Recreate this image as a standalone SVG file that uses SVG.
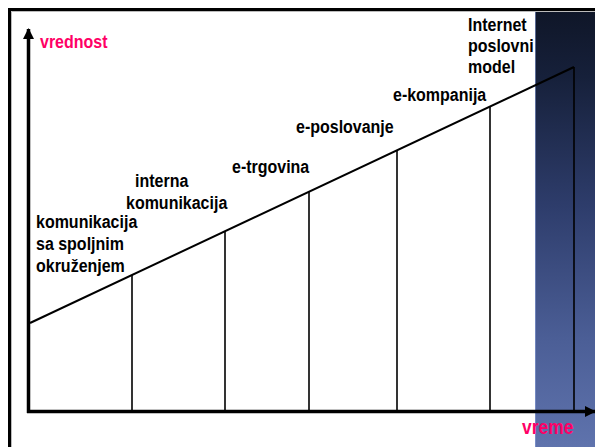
<svg xmlns="http://www.w3.org/2000/svg" width="595" height="447" viewBox="0 0 595 447">
  <defs>
    <linearGradient id="stripe" x1="0" y1="0" x2="0" y2="1">
      <stop offset="0" stop-color="#0f1628"/>
      <stop offset="0.15" stop-color="#16203a"/>
      <stop offset="0.45" stop-color="#2e3d6c"/>
      <stop offset="0.75" stop-color="#4b5e96"/>
      <stop offset="1" stop-color="#5f73ad"/>
    </linearGradient>
    <marker id="arrow" markerWidth="11" markerHeight="11" refX="10" refY="5.5" orient="auto" markerUnits="userSpaceOnUse">
      <path d="M0,0 L11,5.5 L0,11 Z" fill="#000"/>
    </marker>
  </defs>
  <style>
    .lbl { font-family: "Liberation Sans", Arial, sans-serif; font-weight: bold; font-size: 16px; fill: #000; }
    .axl { font-family: "Liberation Sans", Arial, sans-serif; font-weight: bold; font-size: 16px; fill: #ff0066; }
    .ax { stroke: #000; stroke-width: 3.5; fill: none; }
    .ln { stroke: #000; stroke-width: 2; fill: none; }
    .vl { stroke: #000; stroke-width: 1.6; fill: none; }
  </style>
  <rect width="595" height="447" fill="#fff"/>
  <rect x="535" y="11" width="60" height="436" fill="url(#stripe)"/>
  <line x1="535.5" y1="11" x2="535.5" y2="447" stroke="#8aa0d8" stroke-width="1" opacity="0.6"/>
  <!-- frame -->
  <path d="M9.5,447 L9.5,9.5 L595,9.5" stroke="#000" stroke-width="3" fill="none"/>
  <path d="M11.5,447 L11.5,11.5 L595,11.5" stroke="#bbb" stroke-width="1" fill="none"/>

  <g id="connectors">
    <line class="ax" x1="28.5" y1="413" x2="28.5" y2="29" marker-end="url(#arrow)"/>
    <line class="ax" x1="27" y1="411.5" x2="595" y2="411.5" marker-end="url(#arrow)"/>
    <line class="ln" x1="30" y1="323" x2="574" y2="67"/>
    <line class="vl" x1="132" y1="275" x2="132" y2="411"/>
    <line class="vl" x1="225" y1="231.2" x2="225" y2="411"/>
    <line class="vl" x1="309" y1="191.7" x2="309" y2="411"/>
    <line class="vl" x1="397" y1="150.3" x2="397" y2="411"/>
    <line class="vl" x1="490" y1="106.5" x2="490" y2="411"/>
    <line class="vl" x1="574" y1="67" x2="574" y2="411"/>
  </g>

  <g id="axis-y-label"><text class="axl" transform="matrix(1 0 0 1.12 40 48)">vrednost</text></g>
  <g id="axis-x-label"><text class="axl" style="font-size:17.5px" transform="matrix(1 0 0 1.12 522 434)">vreme</text></g>

  <g id="n1">
    <text class="lbl" transform="matrix(1 0 0 1.12 36 228)">komunikacija</text>
    <text class="lbl" transform="matrix(1 0 0 1.12 36 250)">sa spoljnim</text>
    <text class="lbl" transform="matrix(1 0 0 1.12 36 272)">okruženjem</text>
  </g>
  <g id="n2">
    <text class="lbl" transform="matrix(1 0 0 1.12 135 187)">interna</text>
    <text class="lbl" transform="matrix(1 0 0 1.12 126 209)">komunikacija</text>
  </g>
  <g id="n3"><text class="lbl" transform="matrix(1 0 0 1.12 232 173)">e-trgovina</text></g>
  <g id="n4"><text class="lbl" transform="matrix(1 0 0 1.12 296 133)">e-poslovanje</text></g>
  <g id="n5"><text class="lbl" transform="matrix(1 0 0 1.12 393 101)">e-kompanija</text></g>
  <g id="n6">
    <text class="lbl" transform="matrix(1 0 0 1.12 468 31)">Internet</text>
    <text class="lbl" transform="matrix(1 0 0 1.12 468 52)">poslovni</text>
    <text class="lbl" transform="matrix(1 0 0 1.12 468 73)">model</text>
  </g>
</svg>
